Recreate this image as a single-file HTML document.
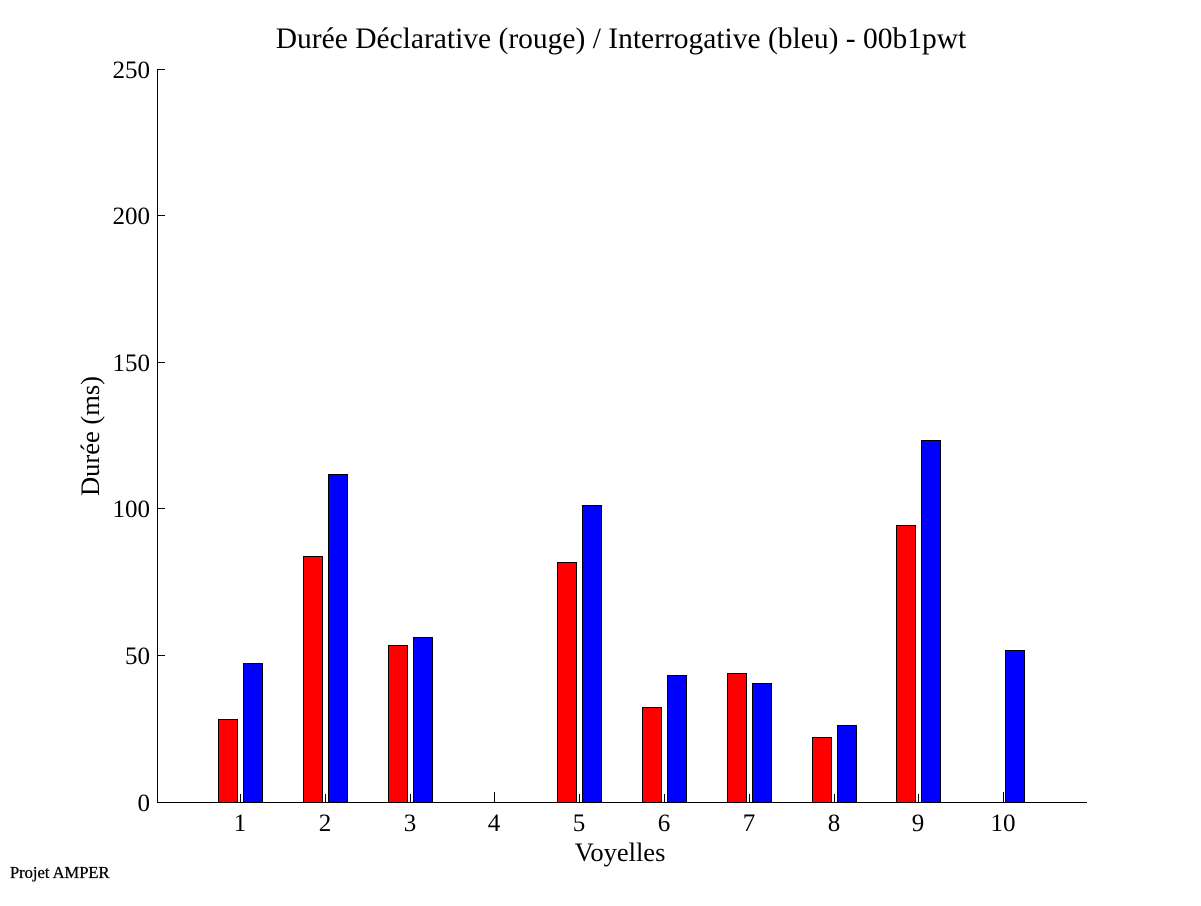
<!DOCTYPE html>
<html><head><meta charset="utf-8"><style>body{margin:0;background:#fff}</style></head>
<body>
<svg width="1201" height="901" xmlns="http://www.w3.org/2000/svg" font-family="Liberation Serif, serif">
<rect width="1201" height="901" fill="#fff"/>
<text x="621" y="48" font-size="29.5" text-anchor="middle">Durée Déclarative (rouge) / Interrogative (bleu) - 00b1pwt</text>
<g stroke="#000" stroke-width="1">
<line x1="157.5" y1="69" x2="157.5" y2="802"/>
<line x1="157" y1="802.5" x2="1087" y2="802.5"/>
<line x1="157" y1="69.5" x2="165" y2="69.5"/>
<line x1="157" y1="215.5" x2="165" y2="215.5"/>
<line x1="157" y1="362.5" x2="165" y2="362.5"/>
<line x1="157" y1="508.5" x2="165" y2="508.5"/>
<line x1="157" y1="655.5" x2="165" y2="655.5"/>
</g>
<g font-size="25" text-anchor="end">
<text x="150" y="78">250</text><text x="150" y="224">200</text><text x="150" y="371">150</text><text x="150" y="517">100</text><text x="150" y="664">50</text><text x="150" y="811">0</text>
</g>
<text transform="translate(99,436) rotate(-90)" font-size="26.5" text-anchor="middle">Durée (ms)</text>
<g stroke="#000" stroke-width="1">
<rect x="218.5" y="719.5" width="19" height="83" fill="#f00"/><rect x="243.5" y="663.5" width="19" height="139" fill="#00f"/>
<rect x="303.5" y="556.5" width="19" height="246" fill="#f00"/><rect x="328.5" y="474.5" width="19" height="328" fill="#00f"/>
<rect x="388.5" y="645.5" width="19" height="157" fill="#f00"/><rect x="413.5" y="637.5" width="19" height="165" fill="#00f"/>
<rect x="557.5" y="562.5" width="19" height="240" fill="#f00"/><rect x="582.5" y="505.5" width="19" height="297" fill="#00f"/>
<rect x="642.5" y="707.5" width="19" height="95" fill="#f00"/><rect x="667.5" y="675.5" width="19" height="127" fill="#00f"/>
<rect x="727.5" y="673.5" width="19" height="129" fill="#f00"/><rect x="752.5" y="683.5" width="19" height="119" fill="#00f"/>
<rect x="812.5" y="737.5" width="19" height="65" fill="#f00"/><rect x="837.5" y="725.5" width="19" height="77" fill="#00f"/>
<rect x="896.5" y="525.5" width="19" height="277" fill="#f00"/><rect x="921.5" y="440.5" width="19" height="362" fill="#00f"/>
<rect x="1005.5" y="650.5" width="19" height="152" fill="#00f"/>
<line x1="240.5" y1="794" x2="240.5" y2="802"/><line x1="325.5" y1="794" x2="325.5" y2="802"/><line x1="410.5" y1="794" x2="410.5" y2="802"/><line x1="494.5" y1="792" x2="494.5" y2="802"/><line x1="579.5" y1="794" x2="579.5" y2="802"/><line x1="664.5" y1="794" x2="664.5" y2="802"/><line x1="749.5" y1="794" x2="749.5" y2="802"/><line x1="834.5" y1="794" x2="834.5" y2="802"/><line x1="918.5" y1="794" x2="918.5" y2="802"/><line x1="1003.5" y1="792" x2="1003.5" y2="802"/>
</g>
<g font-size="25" text-anchor="middle">
<text x="240" y="831">1</text><text x="325" y="831">2</text><text x="410" y="831">3</text><text x="494" y="831">4</text><text x="579" y="831">5</text><text x="664" y="831">6</text><text x="749" y="831">7</text><text x="834" y="831">8</text><text x="918" y="831">9</text><text x="1003" y="831">10</text>
</g>
<text x="620" y="861" font-size="26.5" text-anchor="middle">Voyelles</text>
<text x="10" y="878" font-size="16.5" stroke="#000" stroke-width="0.3">Projet AMPER</text>
</svg>
</body></html>
